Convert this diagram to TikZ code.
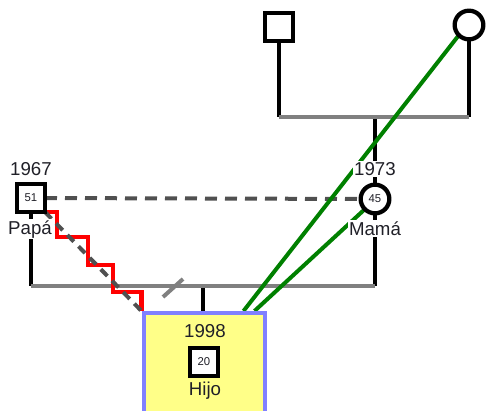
\documentclass[tikz,border=0pt]{standalone}
\usepackage{fontspec}
\setmainfont{Liberation Sans}
\usetikzlibrary{backgrounds,calc}

\definecolor{txtDark}{RGB}{32,32,40}
\definecolor{kinGray}{RGB}{128,128,128}
\definecolor{relGray}{RGB}{80,80,80}
\definecolor{emoGreen}{RGB}{0,128,0}
\definecolor{boxBlue}{RGB}{128,128,255}
\definecolor{boxYellow}{RGB}{255,255,136}

\tikzset{every picture/.style={line width=0.75pt}}
\tikzset{
  male/.style={rectangle, draw=black, fill=white, line width=3.2pt, minimum size=21pt,
    inner sep=0pt, outer sep=0pt, text=txtDark, font=\fontsize{8.5}{10}\selectfont},
  female/.style={male, circle, minimum size=21.5pt},
  nametag/.style={anchor=base, fill=white, inner sep=1pt, text=txtDark,
    font=\fontsize{14}{16}\selectfont},
  kin/.style={draw=black, line width=3.2pt},
  unionbar/.style={draw=kinGray, line width=3pt},
  marriage/.style={draw=relGray, line width=3pt, dash pattern={on 9pt off 6pt}},
  hostile/.style={draw=red, line width=3.2pt},
  emoline/.style={draw=emoGreen, line width=3pt}
}

\begin{document}
\begin{tikzpicture}[x=0.75pt,y=0.75pt,yscale=-1,xscale=1]
\useasboundingbox (0,0) rectangle (487,411);

%Shape: Square [id:gf] 
\draw (279,27) node (gf) [male] {};
%Shape: Circle [id:gm] 
\draw (469,25) node (gm) [female] {};
%Shape: Square [id:papa] 
\draw (31,198) node (papa) [male] {51};
%Shape: Circle [id:mama] 
\draw (375,199) node (mama) [female] {45};
%Shape: Rectangle [id:hijobox] 
\draw (204,363) node (hijobox) [draw=boxBlue, fill=boxYellow, line width=3pt, minimum width=90.75pt, minimum height=75pt] {};
%Shape: Square [id:hijo] 
\draw (204,362) node (hijo) [male] {20};

% Text Node
\draw (31,175) node (papaYear) [nametag] {1967};
% Text Node
\draw (30,234) node (papaName) [nametag] {Papá};
% Text Node
\draw (375,175) node (mamaYear) [nametag] {1973};
% Text Node
\draw (375,235) node (mamaName) [nametag] {Mamá};
% Text Node
\draw (205,337) node (hijoYear) [nametag, fill=none] {1998};
% Text Node
\draw (205,395) node (hijoName) [nametag, fill=none] {Hijo};

%Straight Lines: union bars
\coordinate (gpbarL) at (279,117);
\coordinate (gpbarR) at (469,117);
\coordinate (gpbarC) at (375,117);
\coordinate (pbarL) at (31,286);
\coordinate (pbarR) at (375,286);
\coordinate (pbarC) at (203,286);
\coordinate (split) at (173,288);

\begin{scope}[on background layer]
\draw [kin] (gf) -- (gpbarL);
\draw [kin] (gm) -- (gpbarR);
\draw [kin] (gpbarC) -- (mama);
\draw [unionbar] (gpbarL) -- (gpbarR);

\draw [kin] (papa) -- (pbarL);
\draw [kin] (mama) -- (pbarR);
\draw [kin] (pbarC) -- (pbarC |- hijobox.north);
\draw [unionbar] (pbarL) -- (pbarR);
%divorce mark
\draw [unionbar] ($(split)+(-10,9)$) -- ($(split)+(10,-9)$);

%Straight Lines: marriage
\draw [marriage] (papa) -- (mama);

%Stairs: hostile relation
\draw [hostile] (papa.south) -- ++(26,0) -- ++(0,25) -- ++(31,0) -- ++(0,28) -- ++(25,0) -- ++(0,27) -| (hijobox.north west);
\draw [marriage, dash pattern={on 7pt off 5pt}] (papa.south east) -- (hijobox.north west);

%Straight Lines: emotional links
\draw [emoline] (gm.south west) -- ($(hijobox.north east)+(-23,0)$);
\draw [emoline] (mama.south west) -- ($(hijobox.north east)+(-12,0)$);
\end{scope}

\end{tikzpicture}
\end{document}
